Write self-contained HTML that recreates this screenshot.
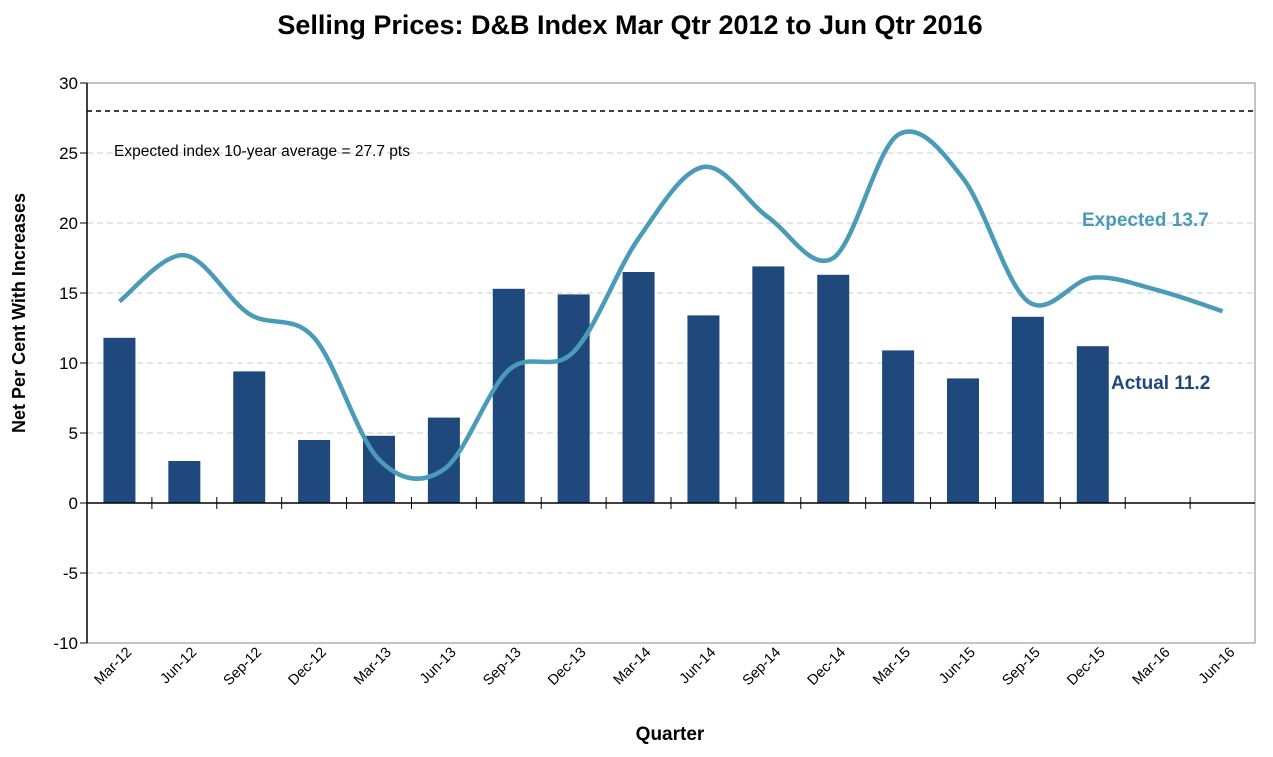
<!DOCTYPE html>
<html><head><meta charset="utf-8"><style>
body{margin:0;background:#fff;}
svg{display:block;font-family:"Liberation Sans",sans-serif;}
</style></head><body>
<svg id="chart" width="1273" height="757">
<text x="630" y="34" text-anchor="middle" font-size="27" font-weight="bold" fill="#000">Selling Prices: D&amp;B Index Mar Qtr 2012 to Jun Qtr 2016</text>
<g id="grid"></g>
<g id="bars"></g>
<g id="axes"></g>
<text x="670" y="740" text-anchor="middle" font-size="19" font-weight="bold">Quarter</text>
<text transform="translate(25,313) rotate(-90)" text-anchor="middle" font-size="18" font-weight="bold">Net Per Cent With Increases</text>
<text x="114" y="156" font-size="15.5" fill="#000">Expected index 10-year average = 27.7 pts</text>
<text x="1082" y="226" font-size="19" font-weight="bold" fill="#4a9bba">Expected 13.7</text>
<text x="1111" y="389" font-size="19" font-weight="bold" fill="#1f497d">Actual 11.2</text>
</svg>
<script>
const categories=["Mar-12","Jun-12","Sep-12","Dec-12","Mar-13","Jun-13","Sep-13","Dec-13","Mar-14","Jun-14","Sep-14","Dec-14","Mar-15","Jun-15","Sep-15","Dec-15","Mar-16","Jun-16"];
const actual=[11.8,3.0,9.4,4.5,4.8,6.1,15.3,14.9,16.5,13.4,16.9,16.3,10.9,8.9,13.3,11.2];
const expected=[14.4,17.7,13.5,11.8,3.1,2.4,9.5,10.8,18.9,24.0,20.4,17.5,26.3,23.2,14.4,16.1,15.2,13.7];
const yTicks=[30,25,20,15,10,5,0,-5,-10];
const averageLine=28;
const NS="http://www.w3.org/2000/svg";
const L=87,R=1255,T=83,B=643,yMin=-10,yMax=30;
const bw=(R-L)/categories.length;
const x=i=>L+bw*(i+0.5);
const y=v=>B-(v-yMin)/(yMax-yMin)*(B-T);
function mk(tag,attrs,parent){const e=document.createElementNS(NS,tag);for(const k in attrs)e.setAttribute(k,attrs[k]);document.getElementById(parent).appendChild(e);return e;}
let e=mk('rect',{x:L,y:T,width:R-L,height:B-T,fill:'none',stroke:'#888','stroke-width':1},'grid');


yTicks.forEach(v=>{
 if(v!==0&&v!==30&&v!==-10){let g=mk('line',{x1:L,x2:R,y1:y(v),y2:y(v),stroke:'#ccc','stroke-dasharray':'6,4'},'grid');
 
 }
 let t=mk('line',{x1:L-7,x2:L,y1:y(v),y2:y(v),stroke:'#000'},'axes');
 
 
 let l=mk('text',{x:L-9,y:y(v)+6,'text-anchor':'end','font-size':17},'axes');l.textContent=v;
 
 
});
actual.forEach((v,i)=>{
 let r=mk('rect',{x:x(i)-16,y:Math.min(y(v),y(0)),width:32,height:Math.abs(y(v)-y(0)),fill:'#1f497d'},'bars');
 
 
});
e=mk('line',{x1:L,x2:L,y1:T,y2:B,stroke:'#000','stroke-width':1.5},'axes');


e=mk('line',{x1:L,x2:R,y1:y(0),y2:y(0),stroke:'#000','stroke-width':1.5},'axes');


categories.forEach((c,i)=>{
 if(i>0){let t=mk('line',{x1:L+bw*i,x2:L+bw*i,y1:y(0)-6,y2:y(0)+6,stroke:'#000'},'axes');
 
 }
 let l=mk('text',{x:0,y:0,'text-anchor':'end','font-size':14.5,transform:`translate(${x(i)+13},${653}) rotate(-45)`},'axes');l.textContent=c;
 
 
});
e=mk('line',{x1:L,x2:R,y1:y(averageLine),y2:y(averageLine),stroke:'#000','stroke-dasharray':'5,4','stroke-width':1.5},'axes');


const pts=expected.map((v,i)=>[x(i),y(v)]);
let d=`M${pts[0][0]},${pts[0][1]}`;
for(let i=0;i<pts.length-1;i++){
 const p0=pts[i-1]||pts[i],p1=pts[i],p2=pts[i+1],p3=pts[i+2]||p2;
 const c1=[p1[0]+(p2[0]-p0[0])/6,p1[1]+(p2[1]-p0[1])/6];
 const c2=[p2[0]-(p3[0]-p1[0])/6,p2[1]-(p3[1]-p1[1])/6];
 d+=` C${c1[0]},${c1[1]} ${c2[0]},${c2[1]} ${p2[0]},${p2[1]}`;
}
e=mk('path',{d:d,fill:'none',stroke:'#4a9bba','stroke-width':4.5},'axes');


</script>
</body></html>
